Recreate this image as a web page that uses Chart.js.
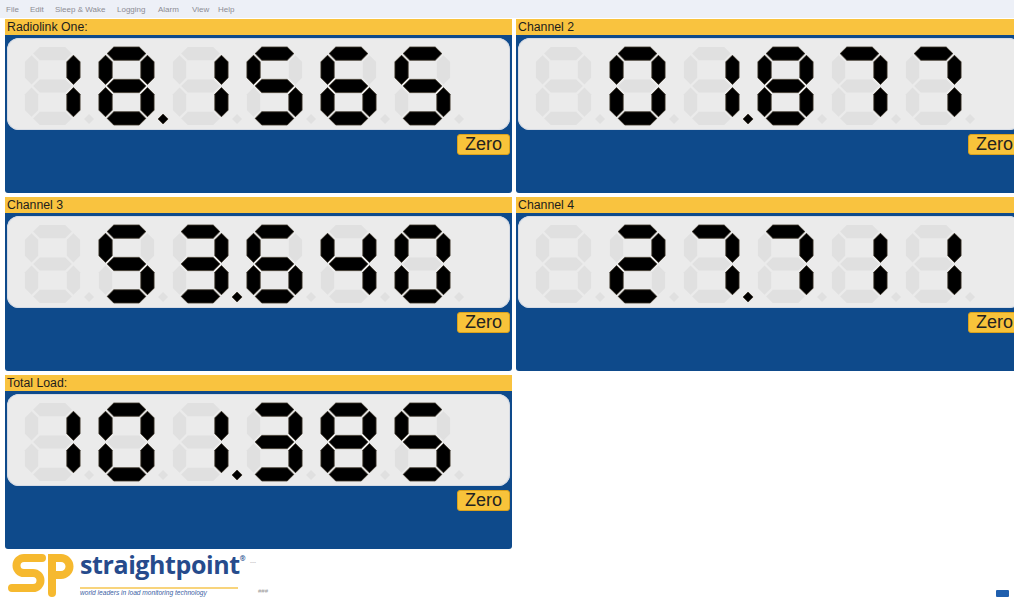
<!DOCTYPE html>
<html>
<head>
<meta charset="utf-8">
<script src="https://cdn.jsdelivr.net/npm/chart.js@4.4.0/dist/chart.umd.min.js"></script>
<style>
  html, body { margin: 0; padding: 0; background: #fff; width: 1014px; height: 599px; overflow: hidden; font-family: "Liberation Sans", Arial, sans-serif; }
  #menu { position: absolute; left: 0; top: 0; width: 1014px; height: 18px; background: #edf0f7; }
  #menu span { position: absolute; top: 5px; font-size: 8px; color: #8c8c94; }
  .panel { position: absolute; width: 507px; height: 174px; }
  .head { position: absolute; left: 0; top: 0; width: 100%; height: 16px; background: #f9c33f; }
  .head span { position: absolute; left: 2px; top: 1px; font-size: 12.3px; color: #1d1d1d; }
  .body { position: absolute; left: 0; top: 16px; width: 100%; height: 158px; background: #0e4a8b; border-radius: 0 0 3px 3px; }
  .display { position: absolute; left: 2px; top: 3px; width: 503px; height: 92px; background: #ebebeb; border-radius: 12px; box-shadow: 0 0 0 1px #d6dbe4 inset; }
  .display canvas { position: absolute; left: 0; top: 0; }
  .zero { position: absolute; left: 452px; top: 99px; width: 51px; height: 19px; background: #f8c33a; border: 1px solid #d9a11d; border-radius: 3px; font-size: 18px; line-height: 19px; text-align: center; color: #222; }
  #logo { position: absolute; left: 0; top: 550px; }
  #brand { position: absolute; left: 80px; top: 547px; font-family: "Open Sans", sans-serif; font-weight: 700; font-size: 25px; color: #264b8c; letter-spacing: -0.4px; }
  #brand sup { font-size: 7px; position: relative; top: -4px; }
  #rule { position: absolute; left: 80px; top: 587px; width: 158px; height: 2px; background: #f8d47c; }
  #tag { position: absolute; left: 80px; top: 589px; font-size: 6.6px; font-style: italic; color: #3c62a4; white-space: nowrap; }
  .tiny { position: absolute; font-size: 6px; color: #9a9a9a; }
  #icon { position: absolute; left: 996px; top: 590px; width: 13px; height: 7px; background: #1f5fae; border-radius: 1px; }
</style>
</head>
<body>
<div id="menu">
  <span style="left:6px">File</span>
  <span style="left:30px">Edit</span>
  <span style="left:55px">Sleep &amp; Wake</span>
  <span style="left:117px">Logging</span>
  <span style="left:158px">Alarm</span>
  <span style="left:192px">View</span>
  <span style="left:218px">Help</span>
</div>
<div id="panels"></div>

<svg id="logo" width="78" height="49" viewBox="0 0 78 49">
  <path d="M42 8 H24 A7.5 7.5 0 0 0 24 23 H33 A7.5 7.5 0 0 1 33 38 H12" fill="none" stroke="#f6b92f" stroke-width="8" stroke-linecap="round"/>
  <path d="M52 43 V8 H61 A8.5 8.5 0 0 1 61 25 H53" fill="none" stroke="#f6b92f" stroke-width="8" stroke-linecap="round"/>
</svg>
<div id="brand">straightpoint<sup>®</sup></div>
<div id="rule"></div>
<div id="tag">world leaders in load monitoring technology</div>
<div class="tiny" style="left:250px;top:559px">---</div>
<div class="tiny" style="left:258px;top:588px">###</div>
<div id="icon"></div>

<script>
// channel captions and the readings shown on the LCD displays
const channelNames = ['Radiolink One:', 'Channel 2', 'Channel 3', 'Channel 4', 'Total Load:'];
const readings = ['18.1565', '01.877', '53.640', '27.711', '101.385'];
const digitCells = 6;

// panel placement (left, top) in the window
const panelPos = [[5, 19], [516, 19], [5, 197], [516, 197], [5, 375]];

// which segments are lit, order a b c d e f g
const segMap = {
  '0': 'abcdef', '1': 'bc', '2': 'abdeg', '3': 'abcdg', '4': 'bcfg',
  '5': 'acdfg', '6': 'acdefg', '7': 'abc', '8': 'abcdefg', '9': 'abcdfg', ' ': ''
};

// split "18.1565" into cells {ch, dot}, right aligned into the 6 cells
function toCells(str) {
  const cells = [];
  for (const c of str) {
    if (c === '.') { cells[cells.length - 1].dot = true; }
    else cells.push({ ch: c, dot: false });
  }
  while (cells.length < digitCells) cells.unshift({ ch: ' ', dot: false });
  return cells;
}

function poly(ctx, pts, fill) {
  ctx.beginPath();
  ctx.moveTo(pts[0][0], pts[0][1]);
  for (let i = 1; i < pts.length; i++) ctx.lineTo(pts[i][0], pts[i][1]);
  ctx.closePath();
  ctx.fillStyle = fill;
  ctx.fill();
  if (fill === '#000') {
    ctx.strokeStyle = '#3a3226';
    ctx.lineWidth = 0.8;
    ctx.stroke();
  }
}

function hSeg(x1, x2, y, t) {
  return [[x1, y], [x1 + t / 2, y - t / 2], [x2 - t / 2, y - t / 2], [x2, y], [x2 - t / 2, y + t / 2], [x1 + t / 2, y + t / 2]];
}
function vSeg(x, y1, y2, t) {
  return [[x, y1], [x + t / 2, y1 + t / 2], [x + t / 2, y2 - t / 2], [x, y2], [x - t / 2, y2 - t / 2], [x - t / 2, y1 + t / 2]];
}

const lcdPlugin = {
  id: 'lcd',
  afterDatasetsDraw(chart) {
    const ctx = chart.ctx;
    const xs = chart.scales.x, ys = chart.scales.y;
    const cells = chart.data.datasets[0].cells;
    const pitch = xs.width / cells.length;
    const w = pitch * 0.745;
    const top = ys.getPixelForValue(1), bot = ys.getPixelForValue(0);
    const h = bot - top;
    const t = w * 0.24;
    const g = 1.6;
    cells.forEach((cell, i) => {
      const cx = xs.getPixelForValue(i);
      const x0 = cx - w / 2;
      const lx = x0 + t / 2, rx = x0 + w - t / 2;
      const ty = top + t / 2, my = top + h / 2, by = bot - t / 2;
      const segs = {
        a: hSeg(lx + g, rx - g, ty, t),
        b: vSeg(rx, ty + g, my - g, t),
        c: vSeg(rx, my + g, by - g, t),
        d: hSeg(lx + g, rx - g, by, t),
        e: vSeg(lx, my + g, by - g, t),
        f: vSeg(lx, ty + g, my - g, t),
        g: hSeg(lx + g, rx - g, my, t)
      };
      const lit = segMap[cell.ch] || '';
      ctx.save();
      for (const k of 'abcdefg') {
        poly(ctx, segs[k], lit.includes(k) ? '#000' : '#e0e0e0');
      }
      const dx = x0 + w + 9, dy = bot - 6, ds = 5;
      poly(ctx, [[dx, dy - ds], [dx + ds, dy], [dx, dy + ds], [dx - ds, dy]], cell.dot ? '#000' : '#e0e0e0');
      ctx.restore();
    });
  }
};

const host = document.getElementById('panels');
channelNames.forEach((name, p) => {
  const panel = document.createElement('div');
  panel.className = 'panel';
  panel.style.left = panelPos[p][0] + 'px';
  panel.style.top = panelPos[p][1] + 'px';
  panel.innerHTML = '<div class="head"><span></span></div>' +
    '<div class="body"><div class="display"><canvas width="503" height="92"></canvas></div>' +
    '<div class="zero">Zero</div></div>';
  panel.querySelector('.head span').textContent = name;
  host.appendChild(panel);

  const cells = toCells(readings[p]);
  const ctx = panel.querySelector('canvas').getContext('2d');
  new Chart(ctx, {
    type: 'bar',
    data: {
      labels: cells.map(c => c.ch),
      datasets: [{
        label: name,
        cells: cells,
        data: cells.map(() => 1),
        backgroundColor: 'rgba(0,0,0,0)',
        borderWidth: 0
      }]
    },
    options: {
      responsive: false,
      animation: false,
      events: [],
      layout: { padding: { left: 8.5, right: 50.5, top: 9, bottom: 5 } },
      plugins: { legend: { display: false }, tooltip: { enabled: false } },
      scales: {
        x: { display: false, offset: true },
        y: { display: false, min: 0, max: 1 }
      }
    },
    plugins: [lcdPlugin]
  });
});
</script>
</body>
</html>
